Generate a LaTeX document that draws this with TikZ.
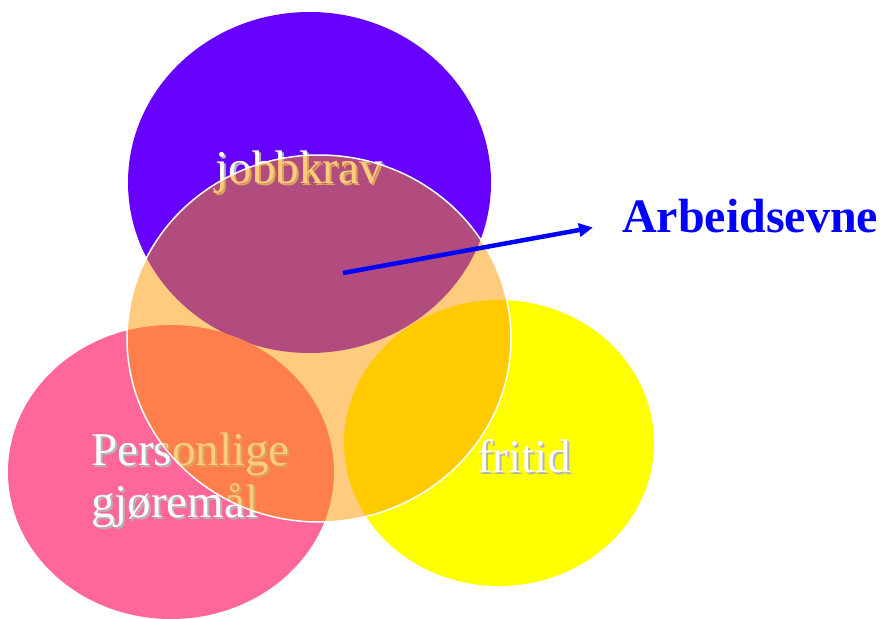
\documentclass[tikz,border=0pt]{standalone}
\usepackage{fontspec}
\setmainfont{Liberation Serif}
\usetikzlibrary{arrows.meta}
\definecolor{jobcol}{HTML}{6600FF}
\definecolor{perscol}{HTML}{FF6699}
\definecolor{fritcol}{HTML}{FFFF00}
\definecolor{evnecol}{HTML}{FF9900}
\definecolor{shadowgray}{HTML}{B4B4B4}
\definecolor{arrowblue}{HTML}{0000FF}
% white text with a soft grey drop shadow
\newcommand{\shtext}[1]{\leavevmode\rlap{\hspace{2pt}\raisebox{-2pt}{\textcolor{shadowgray}{#1}}}\textcolor{white}{#1}}
\tikzset{
  lbl/.style={font=\fontsize{47}{52}\selectfont, inner sep=0pt, align=left},
}
\begin{document}
\begin{tikzpicture}[x=1pt,y=-1pt]
  \useasboundingbox (0,0) rectangle (880,618);
  % three life domains
  \fill[jobcol] (309.5,182.5) ellipse [x radius=181.5, y radius=170.5];
  \fill[perscol] (171,472) ellipse [x radius=163, y radius=147];
  \fill[fritcol] (499,443) ellipse [x radius=155, y radius=143];
  % domain labels
  \node[lbl, anchor=base] (job) at (299,183) {\shtext{jobbkrav}};
  \node[lbl, anchor=base west] (pers) at (91,517) {\shtext{Personlige}\\\shtext{gjøremål}};
  \node[lbl, anchor=base] (frit) at (524,472) {\shtext{fritid}};
  % translucent work ability circle on top
  \draw[draw=white, line width=1.5pt, fill=evnecol, fill opacity=0.5]
    (319,338.5) ellipse [x radius=192, y radius=183.5];
  % pointer to the title
  \coordinate (core) at (343,273);
  \node[font=\bfseries\fontsize{48}{52}\selectfont, text=arrowblue, anchor=base west, inner sep=0pt]
    (evne) at (622,232) {Arbeidsevne};
  \coordinate (tip) at (593,227.5);
  \draw[arrowblue, line width=4.5pt, -{Triangle[length=14pt,width=13pt]}] (core) -- (tip);
\end{tikzpicture}
\end{document}
